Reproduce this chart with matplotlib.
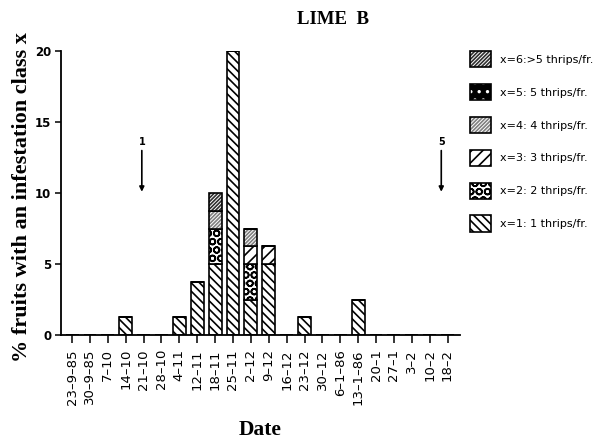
import numpy as np
import matplotlib
matplotlib.use('Agg')
import matplotlib.pyplot as plt
from matplotlib.patches import Patch
from matplotlib.legend_handler import HandlerTuple

# sampling dates (weekly) and % fruits per infestation class
DATES = ['23–9–85', '30–9–85', '7–10', '14–10', '21–10', '28–10', '4–11',
         '12–11', '18–11', '25–11', '2–12', '9–12', '16–12', '23–12',
         '30–12', '6–1–86', '13–1–86', '20–1', '27–1', '3–2', '10–2', '18–2']
CLASS1 = [0, 0, 0, 1.25, 0, 0, 1.25, 3.75, 5.0, 20.0, 2.5, 5.0, 0, 1.25, 0, 0, 2.5, 0, 0, 0, 0, 0]
CLASS2 = [0, 0, 0, 0, 0, 0, 0, 0, 2.5, 0, 2.5, 0, 0, 0, 0, 0, 0, 0, 0, 0, 0, 0]
CLASS3 = [0, 0, 0, 0, 0, 0, 0, 0, 0, 0, 1.25, 1.25, 0, 0, 0, 0, 0, 0, 0, 0, 0, 0]
CLASS4 = [0, 0, 0, 0, 0, 0, 0, 0, 1.25, 0, 1.25, 0, 0, 0, 0, 0, 0, 0, 0, 0, 0, 0]
CLASS5 = [0] * 22
CLASS6 = [0, 0, 0, 0, 0, 0, 0, 0, 1.25, 0, 0, 0, 0, 0, 0, 0, 0, 0, 0, 0, 0, 0]
CLASS_LABELS = ['x=1: 1 thrips/fr.', 'x=2: 2 thrips/fr.', 'x=3: 3 thrips/fr.',
                'x=4: 4 thrips/fr.', 'x=5: 5 thrips/fr.', 'x=6:>5 thrips/fr.']

# treatment markers on the date axis
SPRAY_POS = [3.9, 20.65]
SPRAY_LABELS = ['1', '5']

plt.rcParams['hatch.linewidth'] = 1.2

# fill, hatch and hatch colour for each class
STYLES = [
    ('white', '\\' * 4, 'black'),
    ('white', 'OO', 'black'),
    ('white', '/' * 3, 'black'),
    ('white', '/' * 9, '#808080'),
    ('black', '..', 'white'),
    ('white', '/' * 9, '#303030'),
]

fig = plt.figure(figsize=(6.12, 4.41), dpi=100)
ax = fig.add_axes([0.0997, 0.240, 0.652, 0.644])

x = np.arange(len(DATES))
width = 0.72
bottom = np.zeros(len(DATES))
handles = []
for vals, (fc, hatch, hc) in zip([CLASS1, CLASS2, CLASS3, CLASS4, CLASS5, CLASS6], STYLES):
    vals = np.array(vals, dtype=float)
    ax.bar(x, vals, width, bottom=bottom, color=fc, hatch=hatch, edgecolor=hc, linewidth=0)
    ax.bar(x, vals, width, bottom=bottom, fill=False, edgecolor='black', linewidth=1.2)
    bottom += vals
    handles.append((Patch(facecolor=fc, hatch=hatch, edgecolor=hc, linewidth=0),
                    Patch(fill=False, edgecolor='black', linewidth=1.2)))

for pos, lab in zip(SPRAY_POS, SPRAY_LABELS):
    ax.text(pos, 13.6, lab, ha='center', va='center', fontsize=7, fontweight='bold')
    ax.annotate('', xy=(pos, 10.1), xytext=(pos, 13.0),
                arrowprops=dict(arrowstyle='-|>', color='black', lw=1.2,
                                mutation_scale=7, shrinkA=0, shrinkB=0))

ax.set_xlim(-0.62, 21.7)
ax.set_ylim(0, 20)
ax.set_xticks(x)
ax.set_xticklabels(DATES, rotation=90, fontsize=9.5)
ax.set_yticks([0, 5, 10, 15, 20])
ax.set_yticklabels(['0', '5', '10', '15', '20'], fontsize=8.5, fontweight='bold')
ax.tick_params(axis='x', direction='out', length=6, width=1.1, pad=4)
ax.tick_params(axis='y', direction='out', length=4, width=1.1, pad=3)
for side in ['top', 'right']:
    ax.spines[side].set_visible(False)
for side in ['left', 'bottom']:
    ax.spines[side].set_linewidth(1.3)

ax.legend(handles[::-1], CLASS_LABELS[::-1], handler_map={tuple: HandlerTuple(ndivide=1, pad=0)},
          loc='upper left', bbox_to_anchor=(470 / 612, 1 - 51 / 441), bbox_transform=fig.transFigure,
          frameon=False, fontsize=8, handlelength=1.9, handleheight=1.9, labelspacing=1.48,
          handletextpad=0.8, borderpad=0, borderaxespad=0)

serif = ['Liberation Serif', 'DejaVu Serif']
fig.text(333 / 612, 1 - 19 / 441, 'LIME  B', ha='center', va='center', fontsize=13.5,
         family=serif, fontweight='bold')
fig.text(260 / 612, 1 - 430 / 441, 'Date', ha='center', va='center', fontsize=15.5,
         family=serif, fontweight='bold')
fig.text(22 / 612, 1 - 197 / 441, '% fruits with an infestation class x', rotation=90,
         ha='center', va='center', fontsize=16, family=serif, fontweight='bold')

fig.savefig('out.png', dpi=100)
plt.close(fig)
